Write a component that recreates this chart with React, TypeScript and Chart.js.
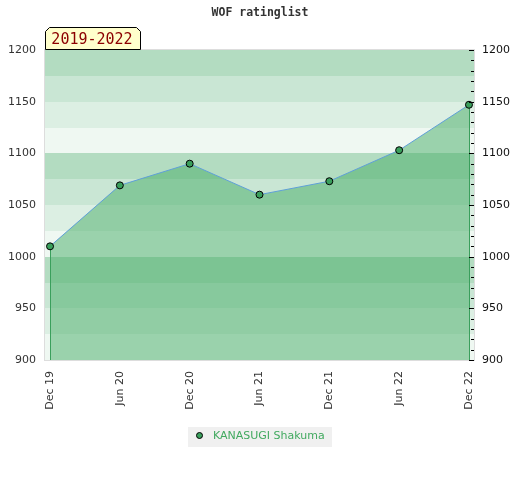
import React, { useEffect, useRef } from "react";
import { Chart, registerables } from "chart.js";

Chart.register(...registerables);

const categories = ["Dec 19", "Jun 20", "Dec 20", "Jun 21", "Dec 21", "Jun 22", "Dec 22"];
const ratings = [1010, 1069, 1090, 1060, 1073, 1103, 1147];
const playerName = "KANASUGI Shakuma";
const chartTitle = "WOF ratinglist";
const periodLabel = "2019-2022";
const yMin = 900;
const yMax = 1200;
const yStep = 50;
const bandStep = 25;
const minorStep = 10;
const bandColors = ["#b3dcc1", "#c9e6d4", "#dcefe3", "#eff8f2"];

const GREEN = "#3a9f5c";

const decorPlugin = {
  id: "decor",
  beforeDatasetsDraw(chart: any) {
    const { ctx, chartArea } = chart;
    const y = chart.scales.y;
    ctx.save();
    let i = 0;
    for (let v = yMax; v > yMin; v -= bandStep) {
      const top = Math.round(y.getPixelForValue(v));
      const bot = Math.round(y.getPixelForValue(v - bandStep));
      ctx.fillStyle = bandColors[i % bandColors.length];
      ctx.fillRect(chartArea.left, top, chartArea.right - chartArea.left, bot - top);
      i++;
    }
    ctx.restore();
  },
  beforeDatasetDraw(chart: any) {
    const { ctx, chartArea } = chart;
    const x = chart.scales.x;
    const y = chart.scales.y;
    ctx.save();
    ctx.strokeStyle = GREEN;
    ctx.lineWidth = 1;
    const ends = [0, ratings.length - 1];
    for (const idx of ends) {
      const px = Math.round(x.getPixelForValue(idx)) + 0.5;
      ctx.beginPath();
      ctx.moveTo(px, y.getPixelForValue(ratings[idx]));
      ctx.lineTo(px, chartArea.bottom);
      ctx.stroke();
    }
    ctx.restore();
  },
  afterDraw(chart: any) {
    const { ctx, chartArea, width } = chart;
    const y = chart.scales.y;
    ctx.save();
    // plot border
    ctx.strokeStyle = "#dddddd";
    ctx.lineWidth = 1;
    ctx.strokeRect(chartArea.left - 0.5, chartArea.top - 0.5, chartArea.right - chartArea.left + 1, chartArea.bottom - chartArea.top + 1);
    // right axis ticks
    ctx.strokeStyle = "#000000";
    for (let v = yMin; v <= yMax; v += minorStep) {
      const py = Math.round(y.getPixelForValue(v)) + 0.5;
      const len = v % yStep === 0 ? 5 : 3;
      ctx.beginPath();
      ctx.moveTo(chartArea.right - len, py);
      ctx.lineTo(chartArea.right, py);
      ctx.stroke();
    }
    // title
    ctx.fillStyle = "#333333";
    ctx.font = "bold 11.5px 'DejaVu Sans Mono'";
    ctx.textAlign = "center";
    ctx.textBaseline = "middle";
    ctx.fillText(chartTitle, width / 2, 13);
    // tab
    const tl = chartArea.left + 0.5;
    const tr = 140.5;
    const tt = 27.5;
    const tb = chartArea.top - 0.5;
    const bev = 4;
    ctx.beginPath();
    ctx.moveTo(tl, tb);
    ctx.lineTo(tl, tt + bev);
    ctx.lineTo(tl + bev, tt);
    ctx.lineTo(tr - bev, tt);
    ctx.lineTo(tr, tt + bev);
    ctx.lineTo(tr, tb);
    ctx.closePath();
    ctx.fillStyle = "#ffffcc";
    ctx.fill();
    ctx.strokeStyle = "#000000";
    ctx.stroke();
    ctx.fillStyle = "#8b0000";
    ctx.font = "15px 'DejaVu Sans Mono'";
    ctx.textAlign = "center";
    ctx.textBaseline = "middle";
    ctx.fillText(periodLabel, (tl + tr) / 2 - 1, 40);
    // legend
    ctx.font = "11px 'DejaVu Sans'";
    const tw = ctx.measureText(playerName).width;
    const boxW = Math.round(tw + 32);
    const bx = Math.round(width / 2 - boxW / 2);
    const by = 427;
    ctx.fillStyle = "#f0f0f0";
    ctx.fillRect(bx, by, boxW, 20);
    ctx.beginPath();
    ctx.arc(bx + 11.5, by + 8.5, 3, 0, Math.PI * 2);
    ctx.fillStyle = GREEN;
    ctx.fill();
    ctx.strokeStyle = "#000000";
    ctx.stroke();
    ctx.fillStyle = "#41a95f";
    ctx.textAlign = "left";
    ctx.textBaseline = "middle";
    ctx.fillText(playerName, bx + 25, by + 9.5);
    ctx.restore();
  },
};

export default function App() {
  const ref = useRef<HTMLCanvasElement | null>(null);
  useEffect(() => {
    document.body.style.margin = "0";
    if (!ref.current) return;
    const chart = new Chart(ref.current, {
      type: "line",
      data: {
        datasets: [
          {
            label: playerName,
            data: ratings.map((r, i) => ({ x: i, y: r })),
            borderColor: "#5fa0d8",
            borderWidth: 1,
            backgroundColor: "rgba(69,172,101,0.5)",
            fill: "start",
            pointRadius: 3.5,
            pointBackgroundColor: GREEN,
            pointBorderColor: "#000000",
            pointBorderWidth: 1,
            tension: 0,
            yAxisID: "y",
          },
        ],
      },
      options: {
        animation: false,
        responsive: false,
        devicePixelRatio: 1,
        layout: { padding: { top: 50, left: 0, right: 0, bottom: 0 } },
        plugins: {
          legend: { display: false },
          title: { display: false },
          tooltip: { enabled: false },
        },
        scales: {
          x: {
            type: "linear",
            min: -0.072,
            max: categories.length - 1 + 0.072,
            afterBuildTicks: (scale: any) => {
              scale.ticks = categories.map((_, i) => ({ value: i }));
            },
            afterFit: (scale: any) => {
              scale.height = 120;
            },
            grid: { display: false, drawTicks: false },
            border: { display: false },
            ticks: {
              autoSkip: false,
              minRotation: 90,
              maxRotation: 90,
              padding: 11,
              color: "#333333",
              font: { family: "'DejaVu Sans'", size: 11 },
              callback: (v: any) => categories[v] ?? "",
            },
          },
          y: {
            position: "left",
            min: yMin,
            max: yMax,
            afterFit: (scale: any) => {
              scale.width = 45;
            },
            grid: { display: false, drawTicks: false },
            border: { display: false },
            ticks: {
              stepSize: yStep,
              padding: 9,
              color: "#333333",
              font: { family: "'DejaVu Sans'", size: 11 },
              callback: (v: any) => String(v),
            },
          },
          y2: {
            position: "right",
            display: true,
            min: yMin,
            max: yMax,
            afterFit: (scale: any) => {
              scale.width = 46;
            },
            grid: { display: false, drawTicks: false },
            border: { display: false },
            ticks: {
              stepSize: yStep,
              padding: 8,
              color: "#111111",
              font: { family: "'DejaVu Sans'", size: 11 },
              callback: (v: any) => String(v),
            },
          },
        },
      },
      plugins: [decorPlugin],
    });
    return () => chart.destroy();
  }, []);
  return (
    <div style={{ width: 520, height: 480 }}>
      <canvas ref={ref} width={520} height={480} />
    </div>
  );
}
